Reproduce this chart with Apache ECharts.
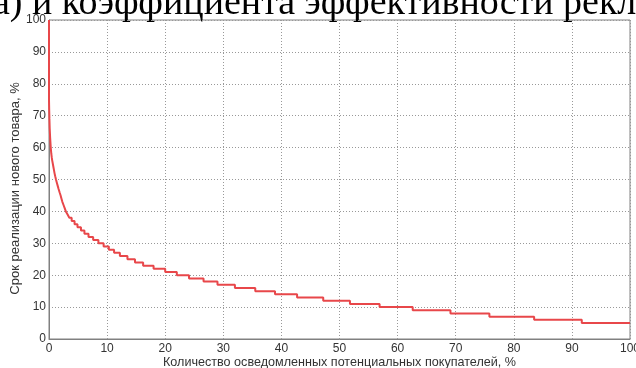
<!DOCTYPE html>
<html>
<head>
<meta charset="utf-8">
<script src="https://cdn.jsdelivr.net/npm/echarts@6/dist/echarts.min.js"></script>
<style>
html,body{margin:0;padding:0;background:#fff;}
#chart{width:636px;height:368px;}
</style>
</head>
<body>
<div id="chart"></div>
<script>
// x where each level begins (step curve), and the level itself
var levelStartX = [0, 0, 0.03, 0.07, 0.12, 0.2, 0.3, 0.35, 0.4, 0.47,
	0.55, 0.65, 0.75, 0.85, 0.95, 1.07, 1.2, 1.35, 1.5, 1.65,
	1.82, 2.0, 2.15, 2.3, 2.5, 2.7, 2.9, 3.2, 3.5, 3.9,
	4.4, 4.9, 5.5, 6.1, 6.8, 7.6, 8.5, 9.4, 10.3, 11.2,
	12.2, 13.5, 14.8, 16.2, 18.0, 20.0, 22.0, 24.1, 26.6, 29.0,
	32.0, 35.5, 38.9, 42.7, 47.2, 51.8, 56.9, 62.6, 69.1, 75.8,
	83.5, 91.7, 100];
var levelValues = [100, 75, 72, 69, 66, 63, 60, 59, 58, 57,
	56, 55, 54, 53, 52, 51, 50, 49, 48, 47,
	46, 45, 44, 43, 42, 41, 40, 39, 38, 37,
	36, 35, 34, 33, 32, 31, 30, 29, 28, 27,
	26, 25, 24, 23, 22, 21, 20, 19, 18, 17,
	16, 15, 14, 13, 12, 11, 10, 9, 8, 7,
	6, 5, 5];

var headText = 'а) и коэффициента эффективности рекл';
var xName = 'Количество осведомленных потенциальных покупателей, %';
var yName = 'Срок реализации нового товара, %';

var seriesData = [];
for (var i = 0; i < levelStartX.length; i++) {
	seriesData.push([levelStartX[i], levelValues[i]]);
}

var myChart = echarts.init(document.getElementById('chart'));
var option = {
	animation: false,
	backgroundColor: '#fff',
	graphic: [{
		type: 'text',
		left: -7,
		top: -15,
		style: {
			text: headText,
			fontFamily: 'Liberation Serif',
			fontSize: 38,
			fill: '#000'
		}
	}],
	grid: {
		left: 49, right: 6, top: 20, bottom: 29,
		outerBoundsMode: 'none',
		containLabel: false,
		show: true,
		borderColor: '#808080',
		borderWidth: 1
	},
	xAxis: {
		type: 'value',
		min: 0, max: 100, interval: 10,
		name: xName,
		nameLocation: 'middle',
		nameGap: 17,
		nameMoveOverlap: false,
		nameTextStyle: {fontFamily: 'Liberation Sans', fontSize: 12.6, color: '#333'},
		axisLine: {lineStyle: {color: '#808080'}},
		axisTick: {show: false},
		axisLabel: {fontFamily: 'Liberation Sans', fontSize: 12, color: '#333', margin: 4},
		splitLine: {show: true, lineStyle: {color: '#999', type: [1, 2]}}
	},
	yAxis: {
		type: 'value',
		min: 0, max: 100, interval: 10,
		name: yName,
		nameLocation: 'middle',
		nameGap: 27,
		nameMoveOverlap: false,
		nameTextStyle: {fontFamily: 'Liberation Sans', fontSize: 13, color: '#333', padding: [0, 18, 0, 0]},
		axisLine: {lineStyle: {color: '#808080'}},
		axisTick: {show: false},
		axisLabel: {fontFamily: 'Liberation Sans', fontSize: 12, color: '#333', margin: 3},
		splitLine: {show: true, lineStyle: {color: '#999', type: [1, 2]}}
	},
	series: [{
		type: 'line',
		step: 'end',
		showSymbol: false,
		data: seriesData,
		lineStyle: {color: '#e8474a', width: 2},
		itemStyle: {color: '#e8474a'}
	}]
};
myChart.setOption(option);
</script>
</body>
</html>
